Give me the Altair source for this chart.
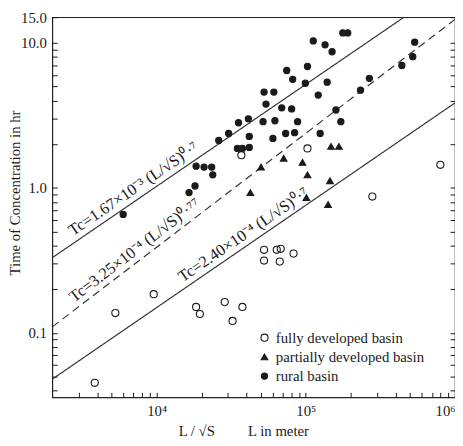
import math
import altair as alt
import pandas as pd

# ---------------- data ----------------
basin_names = ["fully developed basin", "partially developed basin", "rural basin"]

full_x = [3850, 5290, 9570, 18400, 19500, 28600, 32300, 37600, 37000, 52500,
          63900, 67900, 82800, 52500, 66900, 102600, 279300, 798000]
full_y = [0.0453, 0.137, 0.185, 0.151, 0.135, 0.163, 0.121, 0.151, 1.68, 0.374,
          0.374, 0.380, 0.352, 0.315, 0.310, 1.87, 0.871, 1.44]

partial_x = [42500, 50100, 71100, 95000, 100900, 102600, 141000, 145300, 147600, 166700]
partial_y = [0.927, 1.39, 1.60, 1.50, 0.857, 1.23, 0.767, 1.12, 1.93, 1.93]

rural_x = [5970, 16500, 18100, 18400, 20800, 23400, 23800, 26100, 30400, 35400,
           41200, 34800, 37600, 41800, 41800, 51700, 52500, 61100, 54100, 60200,
           62100, 69000, 80400, 73300, 84100, 74500, 81700, 88100, 99300, 102600,
           112200, 134600, 150000, 139000, 121100, 124800, 159200, 171800, 177000, 191000,
           232800, 266700, 440500, 521200, 537000]
rural_y = [0.656, 0.927, 1.03, 1.41, 1.39, 1.39, 1.23, 2.12, 2.37, 2.81,
           2.99, 1.87, 1.87, 1.90, 2.26, 2.86, 4.57, 4.57, 3.78, 2.19,
           2.90, 3.56, 3.50, 2.37, 2.40, 6.44, 5.60, 2.86, 5.26, 6.86,
           10.3, 9.68, 8.67, 5.35, 4.36, 2.37, 3.44, 2.86, 11.7, 11.7,
           4.71, 5.69, 6.97, 8.02, 10.1]

# fitted lines (end points)
line_names = ["upper", "middle", "lower"]
line_x0 = [2000, 2000, 2000]
line_y0 = [0.33, 0.11, 0.048]
line_x1 = [455000, 1000000, 1000000]
line_y1 = [15, 14.5, 3.85]
line_labels = ["Tc=1.67×10⁻³ (L/√S)⁰·⁷",
               "Tc=3.25×10⁻⁴ (L/√S)⁰·⁷⁷",
               "Tc=2.40×10⁻⁴ (L/√S)⁰·⁷"]
label_x = [7700, 7900, 42000]

x_tick_values = [3000, 4000, 5000, 6000, 7000, 8000, 9000, 10000,
                 20000, 30000, 40000, 50000, 60000, 70000, 80000, 90000, 100000,
                 200000, 300000, 400000, 500000, 600000, 700000, 800000, 900000, 1000000]
y_tick_values = [0.04, 0.05, 0.06, 0.07, 0.08, 0.09, 0.1,
                 0.2, 0.3, 0.4, 0.5, 0.6, 0.7, 0.8, 0.9, 1,
                 2, 3, 4, 5, 6, 7, 8, 9, 10, 15]

# ---------------- layout ----------------
W, H = 409, 386
X_DOMAIN = [2000, 1000000]
Y_DOMAIN = [0.036, 15]
FONT = "Liberation Serif"
INK = "#1a1a1a"

pts = pd.DataFrame({
    "x": full_x + partial_x + rural_x,
    "y": full_y + partial_y + rural_y,
    "basin": [basin_names[0]] * len(full_x) + [basin_names[1]] * len(partial_x)
             + [basin_names[2]] * len(rural_x),
})

line_rows = []
text_rows = []
pdx = W / math.log10(X_DOMAIN[1] / X_DOMAIN[0])
pdy = H / math.log10(Y_DOMAIN[1] / Y_DOMAIN[0])
for i, name in enumerate(line_names):
    line_rows.append({"x": line_x0[i], "y": line_y0[i], "line": name})
    line_rows.append({"x": line_x1[i], "y": line_y1[i], "line": name})
    lx0, lx1 = math.log10(line_x0[i]), math.log10(line_x1[i])
    ly0, ly1 = math.log10(line_y0[i]), math.log10(line_y1[i])
    slope = (ly1 - ly0) / (lx1 - lx0)
    t = (math.log10(label_x[i]) - lx0) / (lx1 - lx0)
    ty = 10 ** (ly0 + t * (ly1 - ly0))
    ang = 360 - math.degrees(math.atan(slope * pdy / pdx))
    text_rows.append({"x": label_x[i], "y": ty, "label": line_labels[i], "angle": ang})
lines_df = pd.DataFrame(line_rows)
text_df = pd.DataFrame(text_rows)

xscale = alt.Scale(type="log", domain=X_DOMAIN)
yscale = alt.Scale(type="log", domain=Y_DOMAIN)

xaxis = alt.Axis(
    values=x_tick_values,
    labelExpr="datum.value == 10000 ? '10⁴' : datum.value == 100000 ? '10⁵' : datum.value == 1000000 ? '10⁶' : ''",
    title="L / √S" + "\u00a0" * 9 + "L in meter",
    grid=False, domain=False, offset=-5, tickSize=5, tickColor=INK, tickWidth=1,
    labelPadding=7, labelFont=FONT, labelFontSize=15, labelColor=INK, labelFlush=True,
    titleFont=FONT, titleFontSize=15, titleFontWeight="normal", titleColor=INK,
    titleX=194, titleY=32,
)
yaxis_left = alt.Axis(
    values=y_tick_values,
    labelExpr="datum.value == 0.1 ? '0.1' : datum.value == 1 ? '1.0' : datum.value == 10 ? '10.0' : datum.value == 15 ? '15.0' : ''",
    title="Time of Concentration in hr",
    grid=False, domain=False, offset=-5, tickSize=5, tickColor=INK, tickWidth=1,
    labelPadding=6, labelFont=FONT, labelFontSize=15, labelColor=INK,
    titleFont=FONT, titleFontSize=15, titleFontWeight="normal", titleColor=INK,
    titleX=-35, titleY=178,
)
yaxis_right = alt.Axis(
    orient="right", values=y_tick_values, labels=False, title=None,
    grid=False, domain=False, offset=-5, tickSize=5, tickColor=INK, tickWidth=1,
)

legend = alt.Legend(
    title=None, orient="none", legendX=208, legendY=318, padding=0,
    labelFont=FONT, labelFontSize=15, labelColor=INK, rowPadding=3.5,
    labelOffset=4, symbolStrokeWidth=1.1,
)

lines = alt.Chart(lines_df).mark_line(color="#333333", strokeWidth=1.2).encode(
    x=alt.X("x:Q", scale=xscale, axis=xaxis),
    y=alt.Y("y:Q", scale=yscale, axis=yaxis_right),
    detail="line:N",
    strokeDash=alt.StrokeDash("line:N", scale=alt.Scale(domain=line_names,
                              range=[[1, 0], [8, 5], [1, 0]]), legend=None),
)

points = alt.Chart(pts).mark_point(opacity=1, fillOpacity=1, strokeWidth=1.1).encode(
    x=alt.X("x:Q", scale=xscale, axis=xaxis),
    y=alt.Y("y:Q", scale=yscale, axis=yaxis_left),
    shape=alt.Shape("basin:N", scale=alt.Scale(domain=basin_names,
                    range=["circle", "triangle-up", "circle"]), legend=legend),
    fill=alt.Fill("basin:N", scale=alt.Scale(domain=basin_names,
                  range=["transparent", INK, INK]), legend=legend),
    stroke=alt.Stroke("basin:N", scale=alt.Scale(domain=basin_names,
                      range=[INK, INK, INK]), legend=legend),
    size=alt.Size("basin:N", scale=alt.Scale(domain=basin_names,
                  range=[52, 40, 34]), legend=legend),
)

texts = alt.Chart(text_df).mark_text(
    font=FONT, fontSize=16.5, color=INK, baseline="bottom", align="center", dy=-3
).encode(
    x=alt.X("x:Q", scale=xscale, axis=xaxis),
    y=alt.Y("y:Q", scale=yscale, axis=None),
    text="label:N",
    angle=alt.Angle("angle:Q", scale=None),
)

chart = alt.layer(lines, points, texts).resolve_scale(
    x="shared", y="shared"
).resolve_axis(y="independent").properties(
    width=W, height=H,
    autosize=alt.AutoSizeParams(type="none"),
    padding={"left": 45, "top": 6, "right": 0, "bottom": 38},
    background="white",
).configure_view(stroke="#222222", strokeWidth=1.2)

chart.save("out.html", embed_options={"renderer": "svg", "actions": False})
